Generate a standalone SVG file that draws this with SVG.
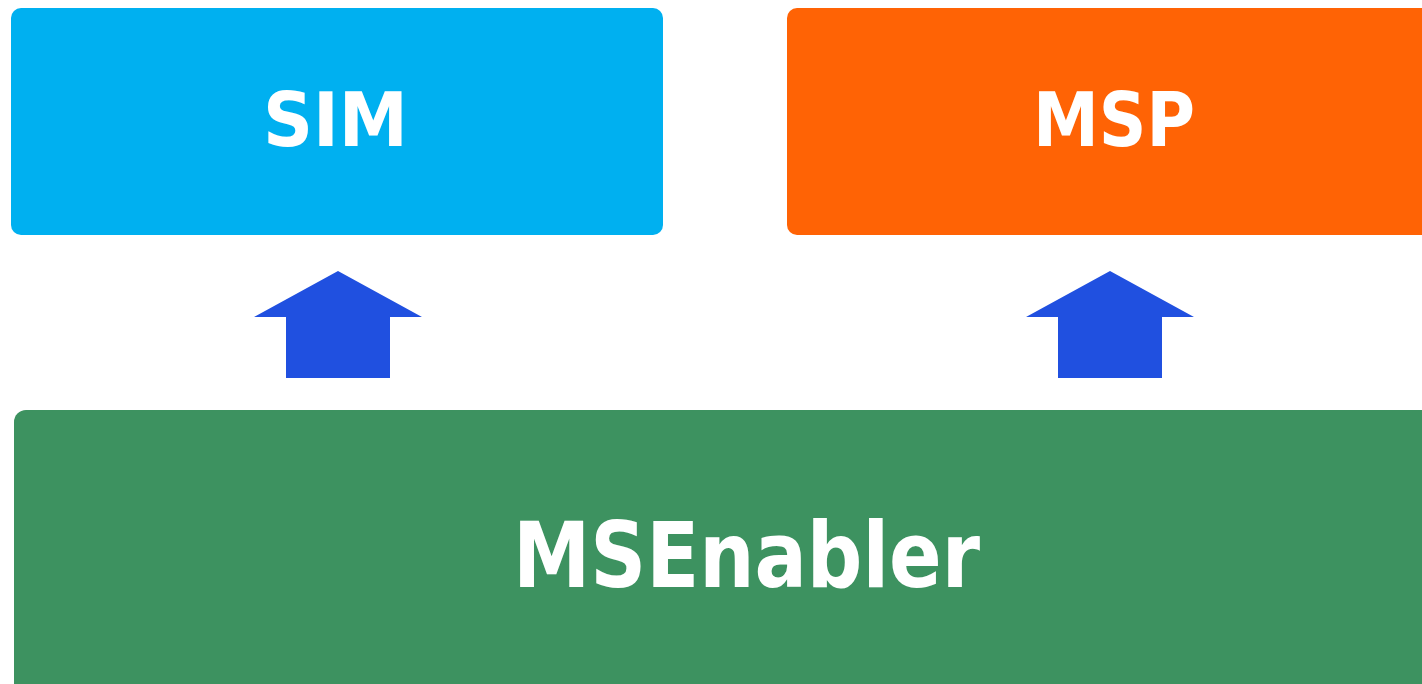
<svg xmlns="http://www.w3.org/2000/svg" width="1422" height="684" viewBox="0 0 1422 684">
<style>
.lbl{font-family:"DejaVu Sans","Liberation Sans",sans-serif;font-weight:bold;fill:#ffffff;text-anchor:middle}
.arrow{fill:#2050E0}
</style>
<rect width="1422" height="684" fill="#ffffff"/>
<g id="sim">
<rect x="11" y="8" width="652" height="227" rx="10" fill="#00B0F0"/>
<text class="lbl" x="335.5" y="146" font-size="74" textLength="145" lengthAdjust="spacingAndGlyphs">SIM</text>
</g>
<g id="msp">
<rect x="787" y="8" width="660" height="227" rx="10" fill="#FF6305"/>
<text class="lbl" x="1114" y="146" font-size="74" textLength="162" lengthAdjust="spacingAndGlyphs">MSP</text>
</g>
<g id="msenabler">
<rect x="14" y="410" width="1440" height="300" rx="12" fill="#3D9260"/>
<text class="lbl" x="746.5" y="587" font-size="91" textLength="467" lengthAdjust="spacingAndGlyphs">MSEnabler</text>
</g>
<g id="connectors">
<polygon class="arrow" points="338,271 422,317 390,317 390,378 286,378 286,317 254,317"/>
<polygon class="arrow" points="1110,271 1194,317 1162,317 1162,378 1058,378 1058,317 1026,317"/>
</g>
</svg>
